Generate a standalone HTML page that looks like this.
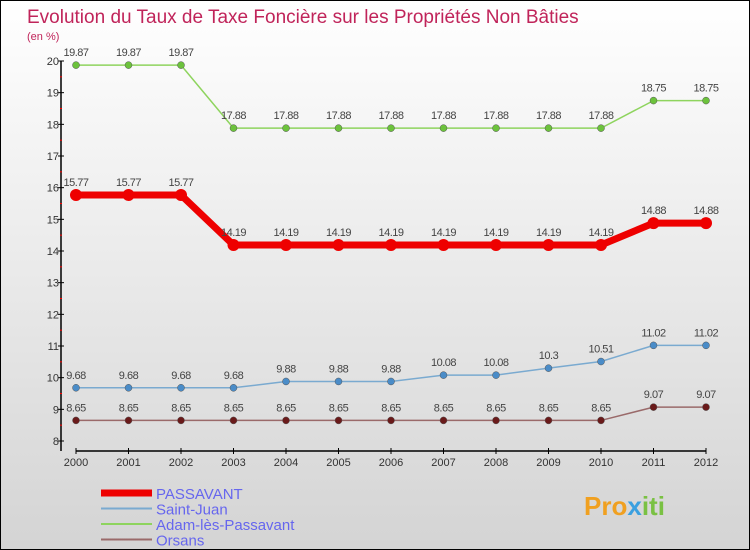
<!DOCTYPE html>
<html><head><meta charset="utf-8"><style>
body{margin:0}
#c{width:750px;height:550px;position:relative;overflow:hidden;box-sizing:border-box;border:1px solid #000;background:linear-gradient(#ffffff,#d4d4d4);font-family:"Liberation Sans",sans-serif}
</style></head><body>
<div id="c">
<svg id="s" width="750" height="550" style="position:absolute;left:0;top:0">
<text x="26" y="22" font-size="19" fill="#c0245a">Evolution du Taux de Taxe Foncière sur les Propriétés Non Bâties</text>
<text x="26" y="39" font-size="11" fill="#c0245a">(en %)</text>
<g id="axes"></g><g id="series"></g><g id="legend"></g>
<text x="583" y="514" font-size="26" font-weight="bold" fill="#f0a020">Pro<tspan fill="#3aa0e0">x</tspan><tspan fill="#7ac143">iti</tspan></text>
</svg>
</div>
<script>
const years=[2000,2001,2002,2003,2004,2005,2006,2007,2008,2009,2010,2011,2012];
const passavant=[15.77,15.77,15.77,14.19,14.19,14.19,14.19,14.19,14.19,14.19,14.19,14.88,14.88];
const saintJuan=[9.68,9.68,9.68,9.68,9.88,9.88,9.88,10.08,10.08,10.3,10.51,11.02,11.02];
const adam=[19.87,19.87,19.87,17.88,17.88,17.88,17.88,17.88,17.88,17.88,17.88,18.75,18.75];
const orsans=[8.65,8.65,8.65,8.65,8.65,8.65,8.65,8.65,8.65,8.65,8.65,9.07,9.07];
const yTicks=[8,9,10,11,12,13,14,15,16,17,18,19,20];
const NS="http://www.w3.org/2000/svg";
const xS=i=>75+i*52.5;
const yS=v=>60+(20-v)*31.667;
function mk(p,t,a){const e=document.createElementNS(NS,t);for(const k in a)e.setAttribute(k,a[k]);p.appendChild(e);return e;}
const ax=document.getElementById('axes');
let e=mk(ax,'line',{x1:60,y1:yS(20),x2:60,y2:yS(8)+10,stroke:'#000','stroke-width':1.5});


e=mk(ax,'line',{x1:75,y1:450,x2:705,y2:450,stroke:'#000','stroke-width':1.5});


yTicks.forEach(v=>{
 e=mk(ax,'line',{x1:57,y1:yS(v),x2:63,y2:yS(v),stroke:'#000'});
 
 
 if(v<20){e=mk(ax,'line',{x1:59,y1:yS(v+0.5),x2:61,y2:yS(v+0.5),stroke:'#f00'});
 
 }
 e=mk(ax,'text',{x:58,y:yS(v)+4,'font-size':11,fill:'#333','text-anchor':'end'});e.textContent=v;
 
 
});
years.forEach((y,i)=>{
 e=mk(ax,'line',{x1:xS(i),y1:447,x2:xS(i),y2:453,stroke:'#000'});
 
 
 e=mk(ax,'text',{x:xS(i),y:465,'font-size':11,fill:'#333','text-anchor':'middle'});e.textContent=y;
 
 
});
const sg=document.getElementById('series');
const series=[
 {n:'adam',d:adam,c:'#8ed45e',w:1.5,r:3.5,f:'#6cc23c'},
 {n:'saint-juan',d:saintJuan,c:'#7aaad0',w:1.5,r:3.5,f:'#4a8cc8'},
 {n:'orsans',d:orsans,c:'#9a6a6a',w:1.5,r:3.5,f:'#6a1a1a'},
 {n:'passavant',d:passavant,c:'#ee0000',w:7,r:6,f:'#ee0000'}];
series.forEach(s=>{
 e=mk(sg,'polyline',{points:s.d.map((v,i)=>xS(i)+','+yS(v)).join(' '),fill:'none',stroke:s.c,'stroke-width':s.w});
 
 
 s.d.forEach((v,i)=>{
  e=mk(sg,'circle',{cx:xS(i),cy:yS(v),r:s.r,fill:s.f,stroke:s.n=='passavant'?'none':'#555','stroke-width':0.5});
  
  
  e=mk(sg,'text',{x:xS(i),y:yS(v)-9,'font-size':11,fill:'#444','text-anchor':'middle','letter-spacing':'-0.5'});e.textContent=v;
  
  
 });
});
const lg=document.getElementById('legend');
[['PASSAVANT','#ee0000',7],['Saint-Juan','#7aaad0',2],['Adam-lès-Passavant','#8ed45e',2],['Orsans','#9a6a6a',2]].forEach((l,i)=>{
 const y=492+i*15.5;
 e=mk(lg,'line',{x1:100,y1:y,x2:151,y2:y,stroke:l[1],'stroke-width':l[2]});
 
 
 e=mk(lg,'text',{x:155,y:y+6,'font-size':15,fill:'#6666ee'});e.textContent=l[0];
 
 
});
</script>
</body></html>
